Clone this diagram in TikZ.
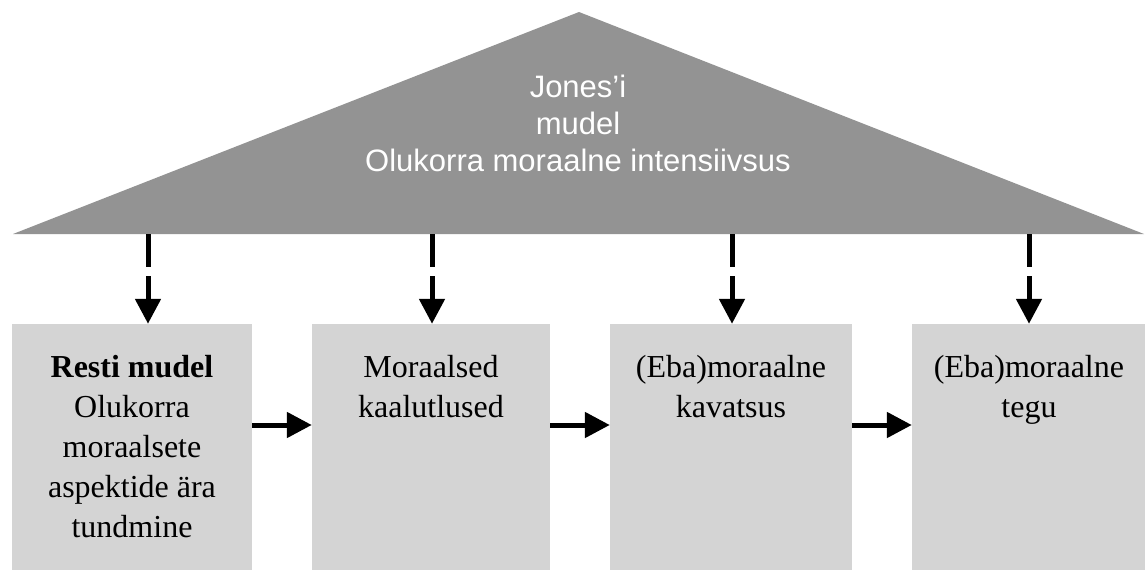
\documentclass[tikz,border=0pt]{standalone}
\usepackage{fontspec}
\setmainfont{Liberation Serif}
\newfontfamily\roofsans{Liberation Sans}
\usetikzlibrary{arrows.meta}
\definecolor{roofgray}{RGB}{147,147,147}
\definecolor{stagegray}{RGB}{212,212,212}

\begin{document}
\begin{tikzpicture}[x=1pt,y=-1pt,
		stage/.style={fill=stagegray,inner sep=0pt,minimum width=240pt,minimum height=246pt},
		stagetext/.style={anchor=north,inner sep=0pt,align=center,font=\fontsize{32}{40}\selectfont},
		flow/.style={line width=5pt,-{Triangle[length=25pt,width=25pt]}},
		dashflow/.style={flow,dash pattern=on 33pt off 9pt}]
				\useasboundingbox (0,0) rectangle (1145,572);
				\fill[roofgray] (13,234) -- (579,12) -- (1144,234) -- cycle;
				\node[anchor=north,inner sep=0pt,align=center,text=white,font=\roofsans\fontsize{31}{37}\selectfont] (jones) at (578,75) {Jones’i\\mudel\\Olukorra moraalne intensiivsus};
				\coordinate (r1) at (148,234);
				\coordinate (r2) at (432,234);
				\coordinate (r3) at (732,234);
				\coordinate (r4) at (1029,234);
				\node[stage] (resti) at (132,447) {};
				\node[stage,minimum width=238pt] (kaalutlus) at (431,447) {};
				\node[stage,minimum width=242pt] (kavatsus) at (731,447) {};
				\node[stage,minimum width=234pt] (tegu) at (1029,447) {};
				\node[stagetext] (restitxt) at ([yshift=-31]resti.north) {\textbf{Resti mudel}\\Olukorra\\moraalsete\\aspektide ära\\tundmine};
				\node[stagetext] (kaalutlustxt) at ([yshift=-31]kaalutlus.north) {Moraalsed\\kaalutlused};
				\node[stagetext] (kavatsustxt) at ([yshift=-31]kavatsus.north) {(Eba)moraalne\\kavatsus};
				\node[stagetext] (tegutxt) at ([yshift=-31]tegu.north) {(Eba)moraalne\\tegu};
				\draw[dashflow] (r1) -- (r1 |- resti.north);
				\draw[dashflow] (r2) -- (r2 |- kaalutlus.north);
				\draw[dashflow] (r3) -- (r3 |- kavatsus.north);
				\draw[dashflow] (r4) -- (r4 |- tegu.north);
				\draw[flow] ([yshift=22]resti.east) -- ([yshift=22]kaalutlus.west);
				\draw[flow] ([yshift=22]kaalutlus.east) -- ([yshift=22]kavatsus.west);
				\draw[flow] ([yshift=22]kavatsus.east) -- ([yshift=22]tegu.west);
			\end{tikzpicture}
\end{document}
